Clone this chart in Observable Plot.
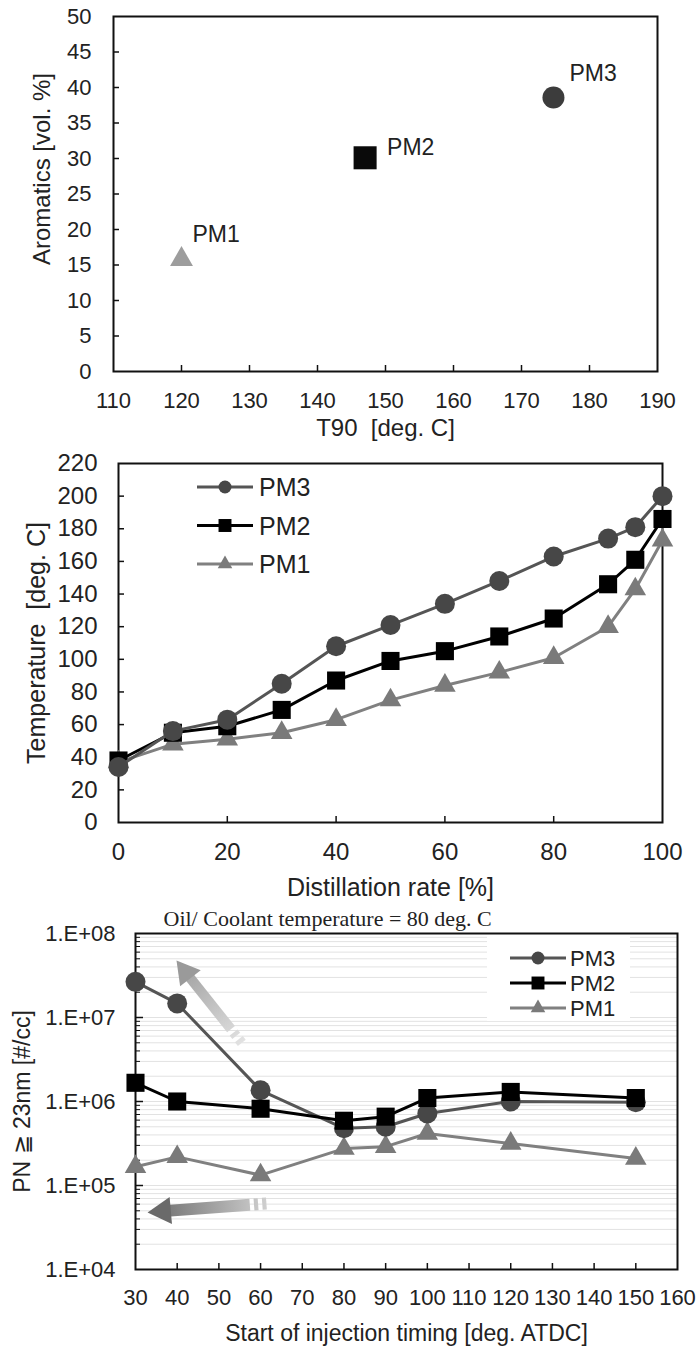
<!DOCTYPE html>
<html><head><meta charset="utf-8">
<script src="https://cdn.jsdelivr.net/npm/d3@7"></script>
<script src="https://cdn.jsdelivr.net/npm/@observablehq/plot@0.6"></script>
<style>
body{margin:0;background:#fff;}
#wrap{position:relative;width:699px;height:1346px;overflow:hidden;}
#wrap svg{position:absolute;left:0;}
#wrap text{white-space:pre;}
</style></head><body><div id="wrap"></div>
<script>
// ---------- data ----------
const seriesNames = ["PM1", "PM2", "PM3"];

// Panel 1: T90 vs aromatics
const t90 = [120, 147, 174.7];
const aromatics = [15.8, 30.1, 38.6];
const p1XTicks = [110, 120, 130, 140, 150, 160, 170, 180, 190];
const p1YTicks = [0, 5, 10, 15, 20, 25, 30, 35, 40, 45, 50];

// Panel 2: distillation curves
const distRate = [0, 10, 20, 30, 40, 50, 60, 70, 80, 90, 95, 100];
const tempPM3 = [34, 56, 63, 85, 108, 121, 134, 148, 163, 174, 181, 200];
const tempPM2 = [38, 55, 59, 69, 87, 99, 105, 114, 125, 146, 161, 186];
const tempPM1 = [37, 48, 51, 55, 63, 75, 84, 92, 101, 120, 143, 173];
const p2XTicks = [0, 20, 40, 60, 80, 100];
const p2YTicks = [0, 20, 40, 60, 80, 100, 120, 140, 160, 180, 200, 220];

// Panel 3: PN vs start of injection
const soi = [30, 40, 60, 80, 90, 100, 120, 150];
const pnPM3 = [2.66e7, 1.47e7, 1.36e6, 4.8e5, 5.0e5, 7.2e5, 1.0e6, 9.8e5];
const pnPM2 = [1.67e6, 1.0e6, 8.2e5, 5.9e5, 6.6e5, 1.1e6, 1.3e6, 1.1e6];
const pnPM1 = [1.67e5, 2.19e5, 1.33e5, 2.75e5, 2.9e5, 4.16e5, 3.16e5, 2.1e5];
const p3XTicks = [30, 40, 50, 60, 70, 80, 90, 100, 110, 120, 130, 140, 150, 160];
const p3YTicks = [1e4, 1e5, 1e6, 1e7, 1e8];
// annotation arrows (tail -> head), in data units
const arrowUp = {x1: 55.5, y1: 5.0e6, x2: 39.8, y2: 4.77e7};
const arrowLeft = {x1: 61.4, y1: 6.1e4, x2: 33.0, y2: 4.8e4};

// ---------- styles ----------
const FONT = '"Liberation Sans", Arial, Helvetica, sans-serif';
const INK = "#222";
const ST = {
  PM1: {symbol: "triangle", fill1: "#9d9d9d", r1: 8.5, line: "#808080", dot: "#7a7a7a", r: 8, rl: 5.4},
  PM2: {symbol: "square", fill1: "#0a0a0a", r1: 13, line: "#000", dot: "#000", r: 10.2, rl: 7.3},
  PM3: {symbol: "circle", fill1: "#3c3c3c", r1: 11, line: "#555", dot: "#474747", r: 10, rl: 6.5}
};
const P1LABEL = {PM1: [11, -25], PM2: [22, -10], PM3: [16, -24]};
const d3sym = {circle: d3.symbolCircle, square: d3.symbolSquare, triangle: d3.symbolTriangle};

const wrap = document.getElementById("wrap");
function place(svg, top) { svg.style.top = top + "px"; wrap.appendChild(svg); }

function addLegend(svg, items, cfg) {
  const g = d3.select(svg).append("g").attr("font-family", FONT).attr("text-anchor", "start");
  if (cfg.box) g.append("rect").attr("x", cfg.box[0]).attr("y", cfg.box[1]).attr("width", cfg.box[2]).attr("height", cfg.box[3]).attr("fill", "#fff");
  items.forEach((s, i) => {
    const y = cfg.y0 + i * cfg.dy;
    g.append("line").attr("x1", cfg.x1).attr("x2", cfg.x2).attr("y1", y).attr("y2", y)
      .attr("stroke", ST[s].line).attr("stroke-width", 3);
    g.append("path").attr("d", d3.symbol(d3sym[ST[s].symbol], Math.PI * ST[s].rl * ST[s].rl)())
      .attr("transform", `translate(${cfg.xm},${y})`).attr("fill", ST[s].dot);
    g.append("text").attr("x", cfg.xt).attr("y", y).attr("dy", "0.36em").attr("font-size", cfg.fs)
      .attr("text-anchor", "start").attr("fill", INK).text(s);
  });
}
const xTitle = (t, dy, fs) => Plot.text([t], {text: d => d, frameAnchor: "bottom", textAnchor: "middle", lineAnchor: "middle", dy, fontSize: fs, fill: INK});
const yTitle = (t, dx, dy, fs) => Plot.text([t], {text: d => d, frameAnchor: "left", textAnchor: "middle", lineAnchor: "middle", rotate: -90, dx, dy, fontSize: fs, fill: INK});

// ---------- Panel 1 ----------
{
  const rows = seriesNames.map((s, i) => ({series: s, x: t90[i], y: aromatics[i]}));
  const H = 450, mt = 16, mb = 79, ml = 113, mr = 42;
  const fw = 699 - ml - mr, fh = H - mt - mb;
  const svg = Plot.plot({
    width: 699, height: H, marginTop: mt, marginBottom: mb, marginLeft: ml, marginRight: mr,
    style: {fontFamily: FONT, fontSize: "22px", color: INK, background: "none", overflow: "visible"},
    x: {domain: [110, 190]}, y: {domain: [0, 50]},
    marks: [
      Plot.axisX(p1XTicks, {tickSize: 0, tickPadding: 21, label: null, fontSize: 22}),
      Plot.axisY(p1YTicks, {tickSize: 0, tickPadding: 22, label: null, fontSize: 22}),
      Plot.tickX(p1XTicks.slice(1, -1), {x: d => d, insetTop: fh - 6, stroke: "#111", strokeWidth: 1.5}),
      Plot.tickY(p1YTicks.slice(1, -1), {y: d => d, insetRight: fw - 6, stroke: "#111", strokeWidth: 1.5}),
      Plot.frame({stroke: "#111", strokeWidth: 2}),
      ...seriesNames.map(s => Plot.dot(rows.filter(d => d.series === s),
        {x: "x", y: "y", symbol: ST[s].symbol, r: ST[s].r1, fill: ST[s].fill1})),
      ...seriesNames.map(s => Plot.text(rows.filter(d => d.series === s),
        {x: "x", y: "y", text: "series", textAnchor: "start", dx: P1LABEL[s][0], dy: P1LABEL[s][1], fontSize: 23, fill: INK})),
      xTitle("T90  [deg. C]", 57, 24),
      yTitle("Aromatics [vol. %]", -71, -25, 24)
    ]
  });
  place(svg, 0);
}

// ---------- Panel 2 ----------
{
  const temps = {PM1: tempPM1, PM2: tempPM2, PM3: tempPM3};
  const rows = seriesNames.flatMap(s => distRate.map((x, i) => ({series: s, x, y: temps[s][i]})));
  const H = 450, mt = 13, mb = 78, ml = 118, mr = 37;
  const fw = 699 - ml - mr, fh = H - mt - mb;
  const order = ["PM1", "PM2", "PM3"];
  const svg = Plot.plot({
    width: 699, height: H, marginTop: mt, marginBottom: mb, marginLeft: ml, marginRight: mr,
    style: {fontFamily: FONT, fontSize: "24px", color: INK, background: "none", overflow: "visible"},
    x: {domain: [0, 100]}, y: {domain: [0, 220]},
    marks: [
      Plot.axisX(p2XTicks, {tickSize: 0, tickPadding: 20, label: null, fontSize: 24}),
      Plot.axisY(p2YTicks, {tickSize: 0, tickPadding: 21, label: null, fontSize: 24}),
      Plot.tickX(p2XTicks.slice(1, -1), {x: d => d, insetTop: fh - 6, stroke: "#111", strokeWidth: 1.5}),
      Plot.tickY(p2YTicks.slice(1, -1), {y: d => d, insetRight: fw - 6, stroke: "#111", strokeWidth: 1.5}),
      Plot.frame({stroke: "#111", strokeWidth: 2}),
      ...order.flatMap(s => {
        const d = rows.filter(r => r.series === s);
        return [
          Plot.line(d, {x: "x", y: "y", stroke: ST[s].line, strokeWidth: 3}),
          Plot.dot(d, {x: "x", y: "y", symbol: ST[s].symbol, r: ST[s].r, fill: ST[s].dot})
        ];
      }),
      xTitle("Distillation rate [%]", 65, 25),
      yTitle("Temperature  [deg. C]", -82, 0, 25)
    ]
  });
  addLegend(svg, ["PM3", "PM2", "PM1"], {x1: 197, x2: 253, xm: 225, xt: 259, y0: 37, dy: 38.5, fs: 25});
  place(svg, 450);
}

// ---------- Panel 3 ----------
{
  const pns = {PM1: pnPM1, PM2: pnPM2, PM3: pnPM3};
  const rows = seriesNames.flatMap(s => soi.map((x, i) => ({series: s, x, y: pns[s][i]})));
  const H = 446, mt = 33, mb = 77, ml = 135, mr = 22;
  const fw = 699 - ml - mr, fh = H - mt - mb;
  const minorY = [];
  for (let k = 0; k < p3YTicks.length - 1; k++) for (let m = 2; m <= 9; m++) minorY.push(m * p3YTicks[k]);
  const fmt = d => "1.E+" + String(Math.round(Math.log10(d))).padStart(2, "0");
  const order = ["PM1", "PM3", "PM2"];
  const along = (a, t) => ({
    x: a.x1 + (a.x2 - a.x1) * t,
    y: Math.pow(10, Math.log10(a.y1) + (Math.log10(a.y2) - Math.log10(a.y1)) * t)
  });
  const pieces = (a, ranges) => ranges.map(([t0, t1]) => {
    const p = along(a, t0), q = along(a, t1);
    return {x1: p.x, y1: p.y, x2: q.x, y2: q.y};
  });
  const upPieces = pieces(arrowUp, [[0, 0.045], [0.085, 0.125], [0.165, 0.82]]);
  const leftPieces = pieces(arrowLeft, [[0, 0.035], [0.07, 0.105], [0.14, 0.84]]);
  const upHead = [along(arrowUp, 0.856)];
  const leftHead = [along(arrowLeft, 0.873)];

  const svg = Plot.plot({
    width: 699, height: H, marginTop: mt, marginBottom: mb, marginLeft: ml, marginRight: mr,
    style: {fontFamily: FONT, fontSize: "22px", color: INK, background: "none", overflow: "visible"},
    x: {domain: [30, 160]}, y: {type: "log", domain: [1e4, 1e8]},
    marks: [
      Plot.ruleY(minorY.concat(p3YTicks.slice(1, -1)), {y: d => d, stroke: "#e2e2e2", strokeWidth: 1}),
      Plot.axisX(p3XTicks, {tickSize: 0, tickPadding: 20, label: null, fontSize: 22}),
      Plot.axisY(p3YTicks, {tickSize: 0, tickPadding: 20, label: null, fontSize: 22, tickFormat: fmt}),
      Plot.tickX(p3XTicks.slice(1, -1), {x: d => d, insetTop: fh - 6, stroke: "#111", strokeWidth: 1.5}),
      Plot.tickY(p3YTicks.slice(1, -1), {y: d => d, insetRight: fw - 8, stroke: "#111", strokeWidth: 1.5}),
      Plot.tickY(minorY, {y: d => d, insetRight: fw - 5, stroke: "#111", strokeWidth: 1}),
      Plot.frame({stroke: "#111", strokeWidth: 2}),
      Plot.link(upPieces, {x1: "x1", y1: "y1", x2: "x2", y2: "y2", stroke: "url(#gUp)", strokeWidth: 10, strokeLinecap: "butt"}),
      Plot.dot(upHead, {x: "x", y: "y", symbol: "triangle", r: 9.7, rotate: -38, fill: "#9a9a9a"}),
      Plot.link(leftPieces, {x1: "x1", y1: "y1", x2: "x2", y2: "y2", stroke: "url(#gLeft)", strokeWidth: 12, strokeLinecap: "butt"}),
      Plot.dot(leftHead, {x: "x", y: "y", symbol: "triangle", r: 10, rotate: -95, fill: "#6a6a6a"}),
      ...order.flatMap(s => {
        const d = rows.filter(r => r.series === s);
        return [
          Plot.line(d, {x: "x", y: "y", stroke: ST[s].line, strokeWidth: 3}),
          Plot.dot(d, {x: "x", y: "y", symbol: ST[s].symbol, r: ST[s].r, fill: ST[s].dot})
        ];
      }),
      Plot.text(["Oil/ Coolant temperature = 80 deg. C"], {text: d => d, frameAnchor: "top-left", textAnchor: "start", lineAnchor: "middle", dx: 28, dy: -15, fontSize: 22, fontFamily: '"Liberation Serif", "Times New Roman", serif', fill: INK}),
      xTitle("Start of injection timing [deg. ATDC]", 64, 23),
      yTitle("PN \u2267 23nm [#/cc]", -113, 0, 23)
    ]
  });
  // gradients for the arrows, laid out along each arrow in pixel space
  const sx = svg.scale("x"), sy = svg.scale("y");
  const defs = d3.select(svg).insert("defs", ":first-child");
  const grad = (id, a, c0, c1) => {
    const g = defs.append("linearGradient").attr("id", id).attr("gradientUnits", "userSpaceOnUse")
      .attr("x1", sx.apply(a.x1)).attr("y1", sy.apply(a.y1)).attr("x2", sx.apply(a.x2)).attr("y2", sy.apply(a.y2));
    g.append("stop").attr("offset", 0).attr("stop-color", c0);
    g.append("stop").attr("offset", 1).attr("stop-color", c1);
  };
  grad("gUp", arrowUp, "#e2e2e2", "#9a9a9a");
  grad("gLeft", arrowLeft, "#cfcfcf", "#6a6a6a");
  addLegend(svg, ["PM3", "PM2", "PM1"], {box: [487, 35, 143, 86], x1: 510, x2: 566, xm: 538, xt: 570, y0: 58, dy: 25, fs: 22});
  place(svg, 900);
}
</script></body></html>
